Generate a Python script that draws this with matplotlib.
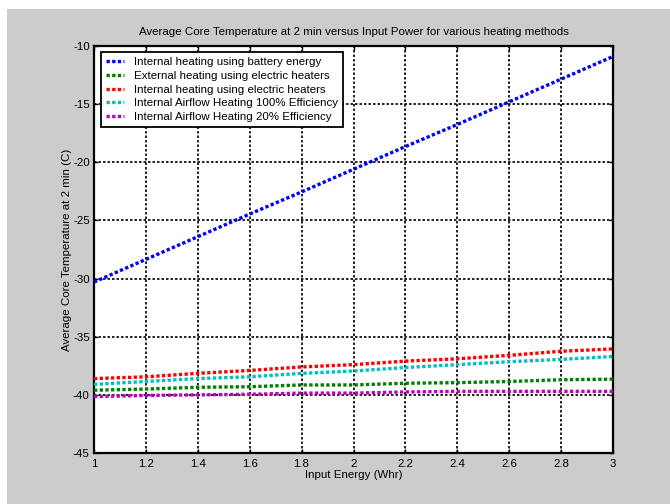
import matplotlib.pyplot as plt
import matplotlib.patches as mpatches
import numpy as np

plt.rcParams['font.family'] = ['Liberation Sans', 'DejaVu Sans']
plt.rcParams['font.size'] = 8.25
plt.rcParams['axes.unicode_minus'] = False

# input energy (Whr)
energy = [1.0, 1.2, 1.4, 1.6, 1.8, 2.0, 2.2, 2.4, 2.6, 2.8, 3.0]

# average core temperature at 2 min (C)
battery = [-30.3, -28.35, -26.4, -24.45, -22.55, -20.6, -18.65, -16.75, -14.8, -12.85, -10.9]
external = [-39.6, -39.5, -39.35, -39.3, -39.15, -39.15, -39.0, -38.95, -38.85, -38.7, -38.65]
internal = [-38.6, -38.45, -38.15, -37.9, -37.6, -37.4, -37.1, -36.9, -36.6, -36.25, -36.05]
airflow100 = [-39.1, -38.85, -38.6, -38.45, -38.15, -37.95, -37.65, -37.4, -37.15, -36.95, -36.7]
airflow20 = [-40.15, -40.05, -40.0, -39.95, -39.85, -39.85, -39.75, -39.7, -39.7, -39.7, -39.7]

labels = ['Internal heating using battery energy',
          'External heating using electric heaters',
          'Internal heating using electric heaters',
          'Internal Airflow Heating 100% Efficiency',
          'Internal Airflow Heating 20% Efficiency']
colors = ['#0000ff', '#008000', '#ff0000', '#00bfbf', '#bf00bf']

xticks = [1, 1.2, 1.4, 1.6, 1.8, 2, 2.2, 2.4, 2.6, 2.8, 3]
xticklabels = ['1', '1.2', '1.4', '1.6', '1.8', '2', '2.2', '2.4', '2.6', '2.8', '3']
yticks = [-45, -40, -35, -30, -25, -20, -15, -10]

fig = plt.figure(figsize=(6.7, 5.04), dpi=100, facecolor='white')
# grey matlab-style background, white strip on top/left
fig.patches.append(mpatches.Rectangle((7 / 670, 0), 1, 495 / 504, transform=fig.transFigure,
                                      facecolor='#cccccc', edgecolor='none', zorder=-10))

ax = fig.add_axes([94 / 670, 51 / 504, 519 / 670, 407 / 504])
ax.set_facecolor('white')

series = [battery, external, internal, airflow100, airflow20]
for ys, c, lab in zip(series, colors, labels):
    ax.plot(energy, ys, color=c, linewidth=2.4, linestyle=(0, (1.0, 0.7)),
            label=lab, zorder=3)

ax.set_xlim(1, 3)
ax.set_ylim(-45, -10)
ax.set_xticks(xticks)
ax.set_xticklabels(xticklabels)
ax.set_yticks(yticks)
ax.grid(True, color='black', linestyle=(0, (1.5, 1.2)), linewidth=1.2, zorder=1)
ax.set_axisbelow(True)
ax.tick_params(direction='in', length=3, width=1, top=True, right=True, colors='black', labelsize=8.25)
ax.tick_params(axis='x', pad=4.5)
ax.tick_params(axis='y', pad=3)
for s in ax.spines.values():
    s.set_linewidth(1.6)
    s.set_color('black')

ax.set_title('Average Core Temperature at 2 min versus Input Power for various heating methods',
             fontsize=8.25, pad=8)
ax.set_xlabel('Input Energy (Whr)', fontsize=8.25, labelpad=0.5)
ax.set_ylabel('Average Core Temperature at 2 min (C)', fontsize=8.25, labelpad=0.5)

leg = ax.legend(loc='upper left', bbox_to_anchor=(0.0135, 0.985), borderaxespad=0,
                fancybox=False, framealpha=1, edgecolor='black', fontsize=8.25,
                labelspacing=0.32, handlelength=1.6, handletextpad=0.8, borderpad=0.45)
leg.get_frame().set_linewidth(1.3)

plt.savefig('out.png', dpi=100, facecolor=fig.get_facecolor())
